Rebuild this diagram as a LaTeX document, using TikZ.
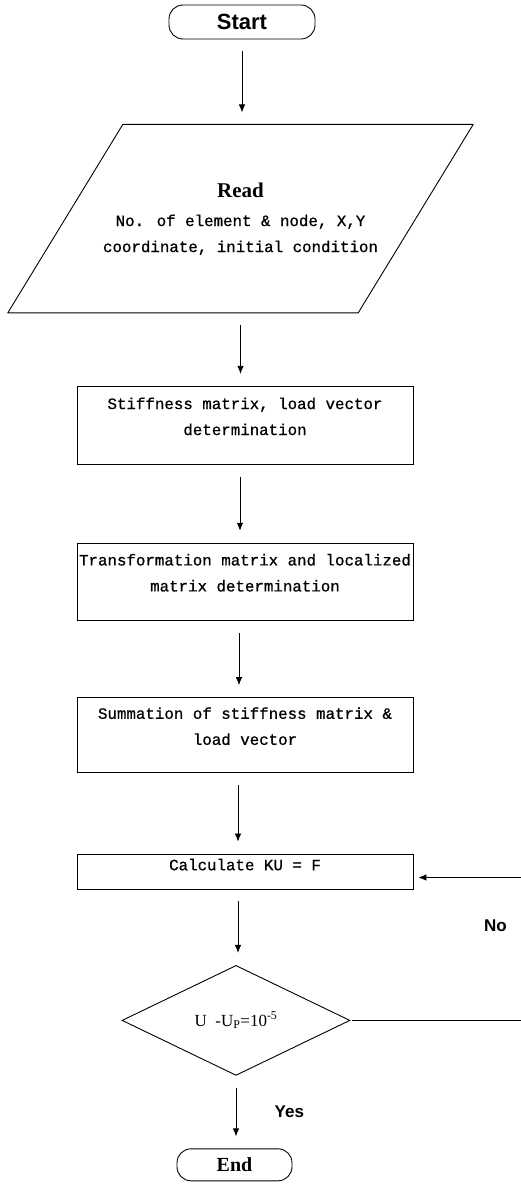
\documentclass[tikz,border=0pt]{standalone}
\usepackage{fontspec}
\setmainfont{Liberation Serif}
\setsansfont{Liberation Sans}
\newfontfamily\flowmono[FakeBold=0.8]{Liberation Mono}
\usetikzlibrary{arrows.meta,positioning,shapes.geometric}

\begin{document}
\begin{tikzpicture}[
  x=1pt, y=-1pt,
  font=\flowmono\fontsize{15.8pt}{26pt}\selectfont,
  terminal/.style={draw=black, line width=0.9pt, rounded corners=14pt,
    minimum height=34pt, inner sep=2pt},
  iobox/.style={minimum width=465pt, minimum height=188pt, align=center, inner sep=0pt},
  inout/.style={draw=black, line width=0.9pt, line join=round},
  process/.style={draw=black, line width=0.9pt, align=center,
    minimum width=336pt, inner xsep=1pt, text depth=18pt},
  decision/.style={draw=black, line width=0.9pt, diamond, aspect=2.07,
    minimum width=228pt, minimum height=110pt, inner sep=0pt},
  flow/.style={-{Latex[length=8pt, width=6.5pt]}, draw=black, line width=0.8pt,
    shorten <=12pt, shorten >=12pt},
  loopback/.style={-{Latex[length=8pt, width=6.5pt]}, draw=black, line width=0.8pt},
  tag/.style={font=\sffamily\bfseries\fontsize{17pt}{17pt}\selectfont}
]
\useasboundingbox (0,0) rectangle (520,1185);

\node[terminal, minimum width=146pt, font=\sffamily\bfseries\fontsize{22pt}{22pt}\selectfont] (start) at (242,22) {Start};
\node[iobox, below=85pt of start, xshift=-1.5pt] (read) {{\rmfamily\bfseries\fontsize{21pt}{21pt}\selectfont Read}\\[3pt]
No. of element \& node, X,Y\\coordinate, initial condition};
% slanted outline of the input box
\draw[inout] ([xshift=115pt]read.north west) -- (read.north east)
  -- ([xshift=-115pt]read.south east) -- (read.south west) -- cycle;
\node[process, minimum height=78pt, below=73pt of read, xshift=4.5pt] (stiff) {Stiffness matrix, load vector\\determination};
\node[process, minimum height=77pt, below=78pt of stiff] (transf) {Transformation matrix and localized\\matrix determination};
\node[process, minimum height=75pt, below=76.5pt of transf] (summ) {Summation of stiffness matrix \&\\load vector};
\node[process, minimum height=35pt, text depth=14pt, below=80.5pt of summ] (calc) {Calculate KU = F};
\node[decision, below=75.5pt of calc, xshift=-9pt, font=\rmfamily\fontsize{17pt}{17pt}\selectfont] (check) {U\enspace-U\textsubscript{P}=10\textsuperscript{-5}};
\node[terminal, minimum width=115pt, minimum height=32pt, below=72.5pt of check, xshift=-1.5pt,
  font=\rmfamily\bfseries\fontsize{20pt}{20pt}\selectfont] (stop) {End};

\draw[flow] (start.south) -- (start.south |- read.north);
\draw[flow] (read.south) -- (read.south |- stiff.north);
\draw[flow] ([xshift=-5pt]stiff.south) -- ([xshift=-5pt]transf.north);
\draw[flow] ([xshift=-6pt]transf.south) -- ([xshift=-6pt]summ.north);
\draw[flow] ([xshift=-7pt]summ.south) -- ([xshift=-7pt]calc.north);
\draw[flow] ([xshift=-7pt]calc.south) -- ([xshift=-7pt]calc.south |- check.north);
\draw[flow] (check.south) -- node[tag, right, xshift=35pt]{Yes} (check.south |- stop.north);
\draw[loopback, shorten <=2pt, shorten >=5pt] (check.east) -- ++(172pt,0)
  |- node[tag, pos=0.33, left, xshift=-12pt]{No} ([yshift=-6pt]calc.east);
\end{tikzpicture}
\end{document}
